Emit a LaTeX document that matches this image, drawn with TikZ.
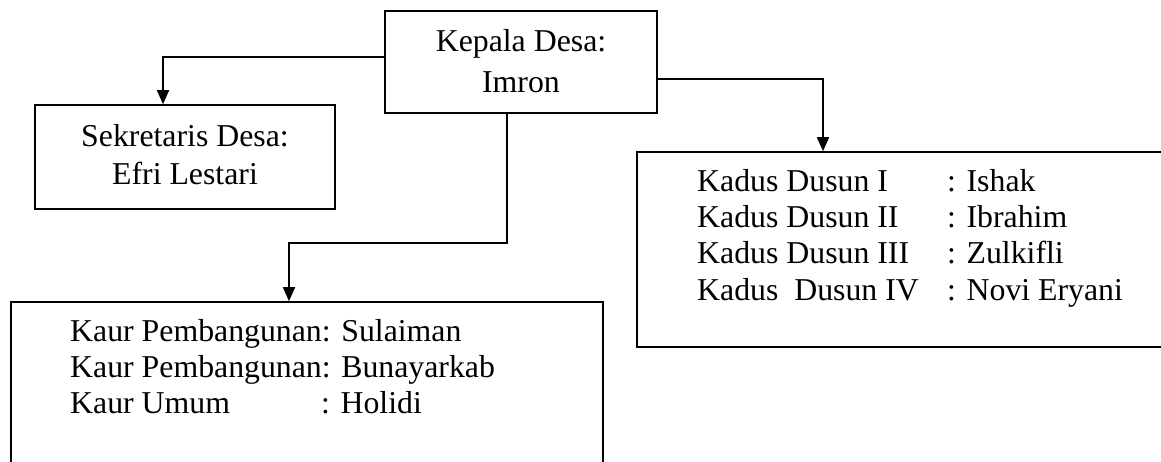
\documentclass[tikz,border=0pt]{standalone}
\usepackage{fontspec}
\setmainfont{Liberation Serif}
\usetikzlibrary{arrows.meta}
\tikzset{
  box/.style={draw, line width=1.6pt, rectangle, inner sep=0pt},
  txt/.style={inner sep=0pt, font=\fontsize{31.8}{38}\selectfont},
  conn/.style={line width=1.6pt},
  arr/.style={conn, -{Triangle[width=12pt,length=14pt]}},
}
\begin{document}
\begin{tikzpicture}[x=1pt,y=-1pt]
\useasboundingbox (0,0) rectangle (1161,462);
\clip (0,0) rectangle (1161,462);
% boxes
\node[box, minimum width=272pt, minimum height=102pt] (kades) at (521,62) {};
\node[box, minimum width=300pt, minimum height=104pt] (sekdes) at (185,157) {};
\node[box, minimum width=548pt, minimum height=195pt] (kadus) at (911,249.5) {};
\node[box, minimum width=592pt, minimum height=188pt] (kaur) at (307,396) {};
% texts
\node[txt, anchor=base] (t1) at (521,52) {Kepala Desa:};
\node[txt, anchor=base] (t2) at (521,93) {Imron};
\node[txt, anchor=base] (s1) at (185,147) {Sekretaris Desa:};
\node[txt, anchor=base] (s2) at (185,185) {Efri Lestari};
\node[txt, anchor=base west] (d1) at (697,192) {Kadus Dusun I};
\node[txt, anchor=base west] (d2) at (697,228) {Kadus Dusun II};
\node[txt, anchor=base west] (d3) at (697,264) {Kadus Dusun III};
\node[txt, anchor=base west] (d4) at (697,300) {Kadus\ \ Dusun IV};
\node[txt, anchor=base west] (n1) at (947,192) {: Ishak};
\node[txt, anchor=base west] (n2) at (947,228) {: Ibrahim};
\node[txt, anchor=base west] (n3) at (947,264) {: Zulkifli};
\node[txt, anchor=base west] (n4) at (947,300) {: Novi Eryani};
\node[txt, anchor=base west] (k1) at (70,341) {Kaur Pembangunan: Sulaiman};
\node[txt, anchor=base west] (k2) at (70,377) {Kaur Pembangunan: Bunayarkab};
\node[txt, anchor=base west] (k3) at (70,413) {Kaur Umum};
\node[txt, anchor=base west] (k4) at (321,413) {: Holidi};
% connectors
\draw[arr] ([yshift=5pt]kades.west) -| ([xshift=-22pt]sekdes.north);
\draw[arr] ([yshift=-17pt]kades.east) -| ([xshift=-88pt]kadus.north);
\draw[arr] ([xshift=-14pt]kades.south) -- ++(0,129) -| ([xshift=-18pt]kaur.north);
\end{tikzpicture}
\end{document}
